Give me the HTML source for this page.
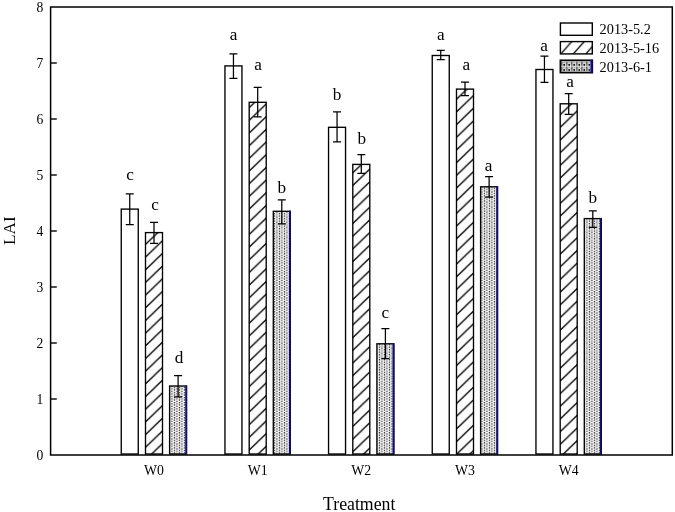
<!DOCTYPE html><html><head><meta charset="utf-8"><style>html,body{margin:0;padding:0;background:#fff;}svg{display:block;will-change:transform;}text{font-family:"Liberation Serif",serif;fill:#000;}</style></head><body>
<svg width="675" height="512" viewBox="0 0 675 512">
<defs>
<pattern id="hatch0" patternUnits="userSpaceOnUse" width="13.208" height="12.68" patternTransform="translate(154.5,425.95)"><path d="M-13.208,25.360 L26.417,-12.680 M-13.208,12.680 L13.208,-12.680 M0,25.360 L26.417,0" stroke="#000" stroke-width="1.3"/></pattern>
<pattern id="hatch1" patternUnits="userSpaceOnUse" width="13.208" height="12.68" patternTransform="translate(257.5,429.36)"><path d="M-13.208,25.360 L26.417,-12.680 M-13.208,12.680 L13.208,-12.680 M0,25.360 L26.417,0" stroke="#000" stroke-width="1.3"/></pattern>
<pattern id="hatch2" patternUnits="userSpaceOnUse" width="13.208" height="12.68" patternTransform="translate(361.5,430.71)"><path d="M-13.208,25.360 L26.417,-12.680 M-13.208,12.680 L13.208,-12.680 M0,25.360 L26.417,0" stroke="#000" stroke-width="1.3"/></pattern>
<pattern id="hatch3" patternUnits="userSpaceOnUse" width="13.208" height="12.68" patternTransform="translate(465.5,432.95)"><path d="M-13.208,25.360 L26.417,-12.680 M-13.208,12.680 L13.208,-12.680 M0,25.360 L26.417,0" stroke="#000" stroke-width="1.3"/></pattern>
<pattern id="hatch4" patternUnits="userSpaceOnUse" width="13.208" height="12.68" patternTransform="translate(568.5,436.36)"><path d="M-13.208,25.360 L26.417,-12.680 M-13.208,12.680 L13.208,-12.680 M0,25.360 L26.417,0" stroke="#000" stroke-width="1.3"/></pattern>
<pattern id="lhatch" patternUnits="userSpaceOnUse" width="12.5" height="12.4" patternTransform="translate(560.8,41.6)"><path d="M9.300,-12.400 L-23.400,24.800 M21.800,-12.400 L-10.900,24.800 M34.300,-12.400 L1.600,24.800" stroke="#000" stroke-width="1.3"/></pattern>
<pattern id="dots" patternUnits="userSpaceOnUse" width="5.0" height="5.04" patternTransform="translate(483.8,301.1)"><rect width="5.0" height="5.04" fill="#fff"/><circle cx="0.5" cy="0.6" r="0.78" fill="#111"/><circle cx="0.5" cy="3.12" r="0.78" fill="#111"/><rect x="2.1" y="0.76" width="1.8" height="2.2" rx="0.5" fill="#858585"/><rect x="2.2" y="3.9" width="1.6" height="0.95" rx="0.2" fill="#1a1a1a"/></pattern>
<pattern id="ldots" patternUnits="userSpaceOnUse" width="5.03" height="5.1" patternTransform="translate(564.2,61.5)"><rect width="5.03" height="5.1" fill="#f0f0f0"/><rect x="1.4" y="0.1" width="2.2" height="2.4" rx="0.6" fill="#6a6a6a"/><circle cx="0" cy="3.4" r="1.0" fill="#111"/><circle cx="5.03" cy="3.4" r="1.0" fill="#111"/><rect x="1.6" y="2.9" width="1.8" height="1.0" fill="#222"/><circle cx="0" cy="0.9" r="0.6" fill="#555"/><circle cx="5.03" cy="0.9" r="0.6" fill="#555"/></pattern>
</defs>
<rect width="675" height="512" fill="#fff"/>
<rect x="121.25" y="209.10" width="17.0" height="244.90" fill="#fff" stroke="#000" stroke-width="1.35"/>
<path d="M129.75,193.80 V224.50 M125.75,193.80 H133.75 M125.75,224.50 H133.75" stroke="#000" stroke-width="1.25" fill="none"/>
<text x="130.05" y="179.80" font-size="17.2" text-anchor="middle">c</text>
<rect x="145.50" y="232.60" width="17.0" height="221.40" fill="url(#hatch0)" stroke="#000" stroke-width="1.35"/>
<path d="M154.00,222.30 V243.40 M150.00,222.30 H158.00 M150.00,243.40 H158.00" stroke="#000" stroke-width="1.25" fill="none"/>
<text x="155.00" y="210.20" font-size="17.2" text-anchor="middle">c</text>
<rect x="169.60" y="386.00" width="17.0" height="68.00" fill="url(#dots)" stroke="#000" stroke-width="1.35"/>
<line x1="186.10" y1="385.40" x2="186.10" y2="454.0" stroke="#120e78" stroke-width="1.8"/>
<path d="M178.10,375.60 V396.90 M174.10,375.60 H182.10 M174.10,396.90 H182.10" stroke="#000" stroke-width="1.25" fill="none"/>
<text x="179.10" y="363.20" font-size="17.2" text-anchor="middle">d</text>
<rect x="224.95" y="65.90" width="17.0" height="388.10" fill="#fff" stroke="#000" stroke-width="1.35"/>
<path d="M233.45,53.75 V78.40 M229.45,53.75 H237.45 M229.45,78.40 H237.45" stroke="#000" stroke-width="1.25" fill="none"/>
<text x="233.45" y="40.20" font-size="17.2" text-anchor="middle">a</text>
<rect x="249.20" y="102.30" width="17.0" height="351.70" fill="url(#hatch1)" stroke="#000" stroke-width="1.35"/>
<path d="M257.70,87.30 V116.90 M253.70,87.30 H261.70 M253.70,116.90 H261.70" stroke="#000" stroke-width="1.25" fill="none"/>
<text x="258.10" y="70.20" font-size="17.2" text-anchor="middle">a</text>
<rect x="273.30" y="211.30" width="17.0" height="242.70" fill="url(#dots)" stroke="#000" stroke-width="1.35"/>
<line x1="289.80" y1="210.70" x2="289.80" y2="454.0" stroke="#120e78" stroke-width="1.8"/>
<path d="M281.80,199.90 V223.90 M277.80,199.90 H285.80 M277.80,223.90 H285.80" stroke="#000" stroke-width="1.25" fill="none"/>
<text x="281.80" y="192.70" font-size="17.2" text-anchor="middle">b</text>
<rect x="328.55" y="127.30" width="17.0" height="326.70" fill="#fff" stroke="#000" stroke-width="1.35"/>
<path d="M337.05,111.80 V141.90 M333.05,111.80 H341.05 M333.05,141.90 H341.05" stroke="#000" stroke-width="1.25" fill="none"/>
<text x="337.05" y="99.80" font-size="17.2" text-anchor="middle">b</text>
<rect x="352.80" y="164.40" width="17.0" height="289.60" fill="url(#hatch2)" stroke="#000" stroke-width="1.35"/>
<path d="M361.30,154.70 V173.40 M357.30,154.70 H365.30 M357.30,173.40 H365.30" stroke="#000" stroke-width="1.25" fill="none"/>
<text x="361.80" y="144.00" font-size="17.2" text-anchor="middle">b</text>
<rect x="376.90" y="343.80" width="17.0" height="110.20" fill="url(#dots)" stroke="#000" stroke-width="1.35"/>
<line x1="393.40" y1="343.20" x2="393.40" y2="454.0" stroke="#120e78" stroke-width="1.8"/>
<path d="M385.40,328.70 V358.50 M381.40,328.70 H389.40 M381.40,358.50 H389.40" stroke="#000" stroke-width="1.25" fill="none"/>
<text x="385.40" y="318.40" font-size="17.2" text-anchor="middle">c</text>
<rect x="432.25" y="55.50" width="17.0" height="398.50" fill="#fff" stroke="#000" stroke-width="1.35"/>
<path d="M440.75,50.30 V59.70 M436.75,50.30 H444.75 M436.75,59.70 H444.75" stroke="#000" stroke-width="1.25" fill="none"/>
<text x="440.75" y="40.20" font-size="17.2" text-anchor="middle">a</text>
<rect x="456.50" y="89.10" width="17.0" height="364.90" fill="url(#hatch3)" stroke="#000" stroke-width="1.35"/>
<path d="M465.00,82.00 V95.60 M461.00,82.00 H469.00 M461.00,95.60 H469.00" stroke="#000" stroke-width="1.25" fill="none"/>
<text x="466.30" y="70.20" font-size="17.2" text-anchor="middle">a</text>
<rect x="480.60" y="186.80" width="17.0" height="267.20" fill="url(#dots)" stroke="#000" stroke-width="1.35"/>
<line x1="497.10" y1="186.20" x2="497.10" y2="454.0" stroke="#120e78" stroke-width="1.8"/>
<path d="M489.10,176.50 V197.00 M485.10,176.50 H493.10 M485.10,197.00 H493.10" stroke="#000" stroke-width="1.25" fill="none"/>
<text x="488.60" y="171.20" font-size="17.2" text-anchor="middle">a</text>
<rect x="535.95" y="69.50" width="17.0" height="384.50" fill="#fff" stroke="#000" stroke-width="1.35"/>
<path d="M544.45,56.00 V82.30 M540.45,56.00 H548.45 M540.45,82.30 H548.45" stroke="#000" stroke-width="1.25" fill="none"/>
<text x="544.05" y="50.90" font-size="17.2" text-anchor="middle">a</text>
<rect x="560.20" y="103.80" width="17.0" height="350.20" fill="url(#hatch4)" stroke="#000" stroke-width="1.35"/>
<path d="M568.70,93.50 V114.40 M564.70,93.50 H572.70 M564.70,114.40 H572.70" stroke="#000" stroke-width="1.25" fill="none"/>
<text x="570.10" y="86.80" font-size="17.2" text-anchor="middle">a</text>
<rect x="584.30" y="218.60" width="17.0" height="235.40" fill="url(#dots)" stroke="#000" stroke-width="1.35"/>
<line x1="600.80" y1="218.00" x2="600.80" y2="454.0" stroke="#120e78" stroke-width="1.8"/>
<path d="M592.80,210.90 V227.30 M588.80,210.90 H596.80 M588.80,227.30 H596.80" stroke="#000" stroke-width="1.25" fill="none"/>
<text x="592.80" y="202.60" font-size="17.2" text-anchor="middle">b</text>
<rect x="50.6" y="7" width="621.7" height="448.0" fill="none" stroke="#000" stroke-width="1.5"/>
<line x1="50.6" y1="399.00" x2="56.8" y2="399.00" stroke="#000" stroke-width="1.4"/>
<line x1="50.6" y1="343.00" x2="56.8" y2="343.00" stroke="#000" stroke-width="1.4"/>
<line x1="50.6" y1="287.00" x2="56.8" y2="287.00" stroke="#000" stroke-width="1.4"/>
<line x1="50.6" y1="231.00" x2="56.8" y2="231.00" stroke="#000" stroke-width="1.4"/>
<line x1="50.6" y1="175.00" x2="56.8" y2="175.00" stroke="#000" stroke-width="1.4"/>
<line x1="50.6" y1="119.00" x2="56.8" y2="119.00" stroke="#000" stroke-width="1.4"/>
<line x1="50.6" y1="63.00" x2="56.8" y2="63.00" stroke="#000" stroke-width="1.4"/>
<text x="43.2" y="459.75" font-size="13.6" text-anchor="end">0</text>
<text x="43.2" y="403.75" font-size="13.6" text-anchor="end">1</text>
<text x="43.2" y="347.75" font-size="13.6" text-anchor="end">2</text>
<text x="43.2" y="291.75" font-size="13.6" text-anchor="end">3</text>
<text x="43.2" y="235.75" font-size="13.6" text-anchor="end">4</text>
<text x="43.2" y="179.75" font-size="13.6" text-anchor="end">5</text>
<text x="43.2" y="123.75" font-size="13.6" text-anchor="end">6</text>
<text x="43.2" y="67.75" font-size="13.6" text-anchor="end">7</text>
<text x="43.2" y="11.75" font-size="13.6" text-anchor="end">8</text>
<text x="154.00" y="474.5" font-size="13.8" text-anchor="middle">W0</text>
<text x="257.70" y="474.5" font-size="13.8" text-anchor="middle">W1</text>
<text x="361.30" y="474.5" font-size="13.8" text-anchor="middle">W2</text>
<text x="465.00" y="474.5" font-size="13.8" text-anchor="middle">W3</text>
<text x="568.70" y="474.5" font-size="13.8" text-anchor="middle">W4</text>
<text x="359.2" y="510.1" font-size="17.8" text-anchor="middle">Treatment</text>
<text transform="translate(15.1,230.65) rotate(-90)" x="0" y="0" font-size="17.2" text-anchor="middle">LAI</text>
<rect x="560.4" y="23.0" width="31.9" height="12.3" fill="#fff" stroke="#000" stroke-width="1.4"/>
<text x="599.6" y="34.45" font-size="14.3">2013-5.2</text>
<rect x="560.4" y="41.6" width="31.9" height="12.3" fill="url(#lhatch)" stroke="#000" stroke-width="1.4"/>
<text x="599.6" y="53.05" font-size="14.3">2013-5-16</text>
<rect x="560.4" y="60.3" width="31.9" height="12.3" fill="url(#ldots)" stroke="#000" stroke-width="1.7"/>
<line x1="591.50" y1="59.70" x2="591.50" y2="73.20" stroke="#15108a" stroke-width="2.2"/>
<text x="599.6" y="71.75" font-size="14.3">2013-6-1</text>
</svg></body></html>
